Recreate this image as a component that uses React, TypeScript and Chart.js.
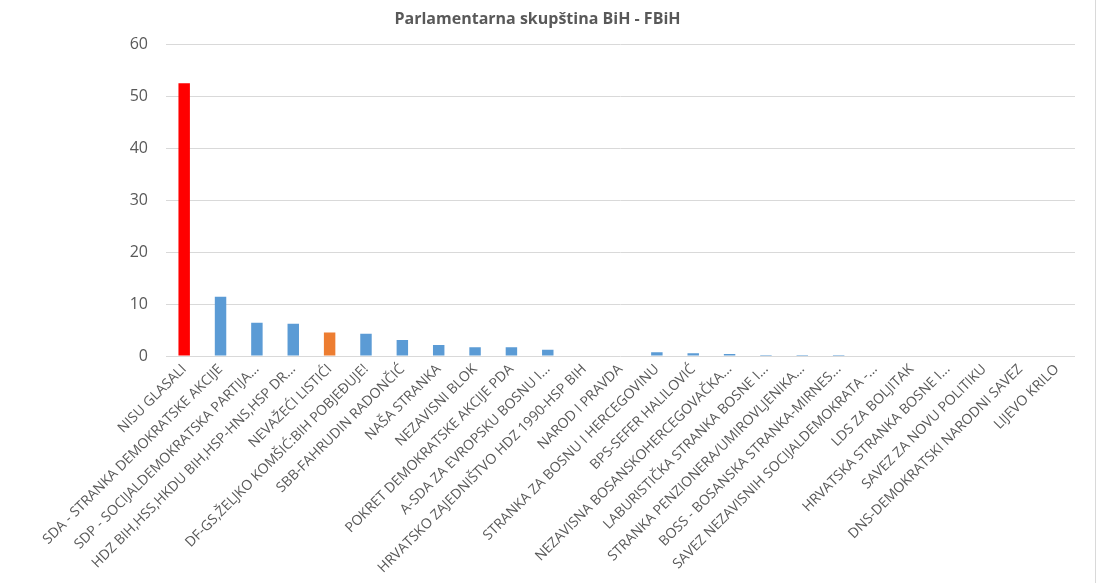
import React, { useEffect, useRef } from "react";
import { Chart, registerables } from "chart.js";

Chart.register(...registerables);

const categories: string[] = [
  "NISU GLASALI",
  "SDA - STRANKA DEMOKRATSKE AKCIJE",
  "SDP - SOCIJALDEMOKRATSKA PARTIJA...",
  "HDZ BIH,HSS,HKDU BIH,HSP-HNS,HSP DR...",
  "NEVAŽEĆI LISTIĆI",
  "DF-GS,ŽELJKO KOMŠIĆ:BIH POBJEĐUJE!",
  "SBB-FAHRUDIN RADONČIĆ",
  "NAŠA STRANKA",
  "NEZAVISNI BLOK",
  "POKRET DEMOKRATSKE AKCIJE PDA",
  "A-SDA ZA EVROPSKU BOSNU I...",
  "HRVATSKO ZAJEDNIŠTVO HDZ 1990-HSP BIH",
  "NAROD I PRAVDA",
  "STRANKA ZA BOSNU I HERCEGOVINU",
  "BPS-SEFER HALILOVIĆ",
  "NEZAVISNA BOSANSKOHERCEGOVAČKA...",
  "LABURISTIČKA STRANKA BOSNE I...",
  "STRANKA PENZIONERA/UMIROVLJENIKA...",
  "BOSS - BOSANSKA STRANKA-MIRNES...",
  "SAVEZ NEZAVISNIH SOCIJALDEMOKRATA -...",
  "LDS ZA BOLJITAK",
  "HRVATSKA STRANKA BOSNE I...",
  "SAVEZ ZA NOVU POLITIKU",
  "DNS-DEMOKRATSKI NARODNI SAVEZ",
  "LIJEVO KRILO",
];

const values: number[] = [
  52.5, 11.4, 6.4, 6.2, 4.5, 4.3, 3.1, 2.1, 1.7, 1.7, 1.2, 0, 0, 0.7, 0.55,
  0.4, 0.2, 0.2, 0.2, 0, 0, 0, 0, 0, 0,
];

const yTicks: number[] = [0, 10, 20, 30, 40, 50, 60];

const title = "Parlamentarna skupština BiH - FBiH";

const RED = "#FF0000";
const ORANGE = "#ED7D31";
const BLUE = "#5B9BD5";

export default function App() {
  const ref = useRef<HTMLCanvasElement | null>(null);

  useEffect(() => {
    if (!ref.current) return;
    const colors = categories.map((c, i) =>
      i === 0 ? RED : c === "NEVAŽEĆI LISTIĆI" ? ORANGE : BLUE
    );
    const chart = new Chart(ref.current, {
      type: "bar",
      data: {
        labels: categories,
        datasets: [
          {
            data: values,
            backgroundColor: colors,
            borderWidth: 0,
            barPercentage: 0.45,
            categoryPercentage: 0.7,
          },
        ],
      },
      options: {
        animation: false,
        responsive: false,
        maintainAspectRatio: false,
        layout: { padding: { left: 0, right: 20, top: 0, bottom: 0 } },
        plugins: {
          legend: { display: false },
          tooltip: { enabled: false },
          title: {
            display: true,
            text: title,
            color: "#595959",
            font: { family: "'Open Sans', sans-serif", size: 16, weight: "bold" },
            padding: { top: 10, bottom: 15 },
          },
        },
        scales: {
          x: {
            grid: { display: false, drawTicks: false },
            border: { display: false },
            ticks: {
              color: "#595959",
              font: { family: "'Open Sans', sans-serif", size: 14 },
              minRotation: 45,
              maxRotation: 45,
              autoSkip: false,
              padding: 5,
            },
            afterFit: (scale: any) => {
              scale.height = 583 - 356;
            },
          },
          y: {
            min: 0,
            max: 60,
            afterBuildTicks: (scale: any) => {
              scale.ticks = yTicks.map((v) => ({ value: v }));
            },
            grid: { color: "#D9D9D9", lineWidth: 1, drawTicks: false },
            border: { display: false },
            ticks: {
              color: "#595959",
              font: { family: "'Open Sans', sans-serif", size: 16 },
              padding: 18,
            },
            afterFit: (scale: any) => {
              scale.width = 166;
            },
          },
        },
      },
    });
    return () => chart.destroy();
  }, []);

  return (
    <div
      style={{
        position: "absolute",
        left: 0,
        top: 0,
        width: 1095,
        height: 583,
        borderRight: "1px solid #D9D9D9",
        background: "#fff",
      }}
    >
      <canvas ref={ref} width={1095} height={583} style={{ display: "block" }} />
    </div>
  );
}
